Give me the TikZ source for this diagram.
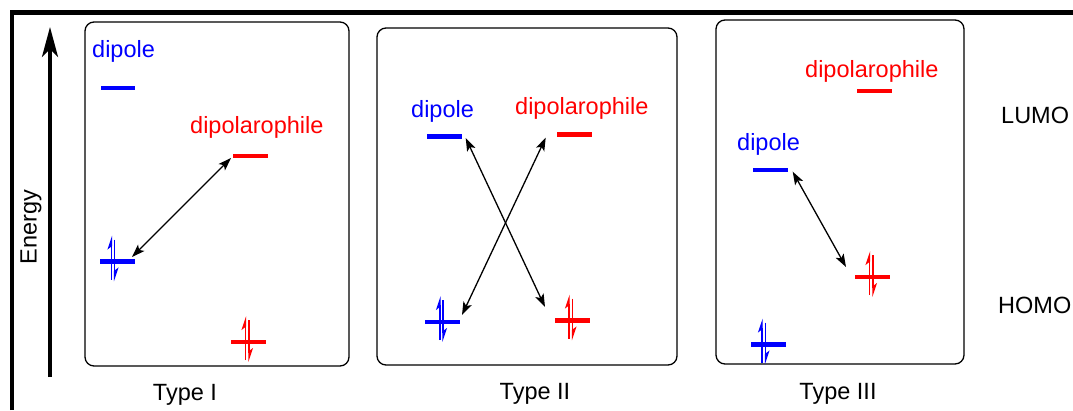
\documentclass[tikz,border=0pt]{standalone}
\usepackage{fontspec}
\setmainfont{Liberation Sans}
\usetikzlibrary{arrows.meta}
\tikzset{
  txt/.style={inner sep=0pt, font=\fontsize{23.5}{28}\selectfont},
  bluetxt/.style={txt, text=blue, anchor=base west},
  redtxt/.style={txt, text=red, anchor=base west},
  level/.style={line width=4.5pt},
  panel/.style={draw, line width=1.3pt, rounded corners=9pt},
  inter/.style={line width=1.3pt, {Stealth[length=13pt,width=9pt,inset=3pt]}-{Stealth[length=13pt,width=9pt,inset=3pt]}},
  epair/.style={line width=1.3pt, -{Stealth[left,length=12pt,width=8pt,inset=3pt]}},
}
\newcommand{\elpair}[4]{%
  \draw[epair,#4] (#1,#3+18) -- (#1,#3-26);
  \draw[epair,#4] (#2,#3-22) -- (#2,#3+20);}
\begin{document}
\begin{tikzpicture}[x=1pt,y=-1pt]
\useasboundingbox (0,0) rectangle (1073,410);
% outer frame
\draw[line width=4.5pt] (12,410) -- (12,12.5) -- (1073,12.5);
% energy axis
\coordinate (eb) at (50,377);
\coordinate (et) at (50,27);
\draw[line width=4pt, -{Stealth[length=30pt,width=16pt,inset=8pt]}] (eb) -- (et);
\node[txt, rotate=90] (energy) at (31,227) {Energy};
% panels
\draw[panel] (85,22) rectangle (349,366);
\draw[panel] (377,28) rectangle (677,365);
\draw[panel] (716,20) rectangle (964,364);
\node[txt, anchor=base] (t1) at (185,400) {Type I};
\node[txt, anchor=base] (t2) at (535,399) {Type II};
\node[txt, anchor=base] (t3) at (838,399) {Type III};
\node[txt, anchor=base west] (lumo) at (1001,123) {LUMO};
\node[txt, anchor=base west] (homo) at (998,313) {HOMO};
% ---- Type I
\node[bluetxt] (d1) at (92,57) {dipole};
\node[redtxt] (p1) at (190,133) {dipolarophile};
\draw[level,blue] (101,88) -- (135,88);
\draw[level,red] (233,156) -- (268,156);
\draw[level,blue] (100,261.5) -- (135,261.5);
\draw[level,red] (231,342) -- (266,342);
\elpair{111.5}{114.5}{261.5}{blue}
\elpair{245.5}{249}{342}{red}
\coordinate (a1) at (132,257);
\coordinate (b1) at (231,158);
\draw[inter] (a1) -- (b1);
% ---- Type II
\node[bluetxt] (d2) at (411,117) {dipole};
\node[redtxt] (p2) at (515,114) {dipolarophile};
\draw[level,blue] (427,136.5) -- (462,136.5);
\draw[level,red] (557,134.5) -- (592,134.5);
\draw[level,blue] (425,322) -- (460,322);
\draw[level,red] (555,320.5) -- (590,320.5);
\elpair{440}{443}{322}{blue}
\elpair{569}{572.5}{320.5}{red}
\coordinate (a2) at (465.7,138);
\coordinate (b2) at (545,307);
\coordinate (c2) at (462,315);
\coordinate (e2) at (545.7,137.7);
\draw[inter] (a2) -- (b2);
\draw[inter] (c2) -- (e2);
% ---- Type III
\node[redtxt] (p3) at (805,77) {dipolarophile};
\node[bluetxt] (d3) at (737,150) {dipole};
\draw[level,red] (857,91) -- (892,91);
\draw[level,blue] (753,170) -- (788,170);
\draw[level,red] (855,277) -- (890,277);
\draw[level,blue] (751,344.5) -- (786,344.5);
\elpair{869.5}{873}{277}{red}
\elpair{762}{765.5}{344.5}{blue}
\coordinate (a3) at (792.7,171.7);
\coordinate (b3) at (846,267);
\draw[inter] (a3) -- (b3);
\end{tikzpicture}
\end{document}
